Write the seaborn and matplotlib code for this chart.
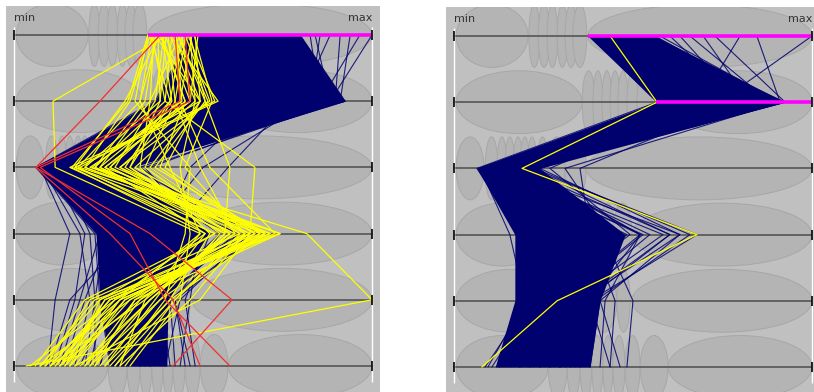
import matplotlib
matplotlib.use("Agg")
import matplotlib.pyplot as plt
from matplotlib.patches import Ellipse
import pandas as pd
import seaborn as sns

# Six dimensions, each drawn as a horizontal axis running from min (left) to max (right).
# All values are expressed as percent of each dimension's range.
DIMENSIONS = [0, 1, 2, 3, 4, 5]

# Distribution glyphs behind each axis: (low, high) extent of every ellipse.
ROW_ELLIPSES = [
    [(0.6, 20.7), (20.9, 24.0), (23.5, 26.8), (26.0, 29.0), (28.8, 31.8), (31.0, 34.4), (33.2, 37.1), (37.4, 100)],
    [(0.6, 35.8), (35.8, 39.4), (38.8, 41.6), (41.3, 44.1), (43.6, 46.4), (45.8, 48.6), (48.3, 51.4), (51.1, 55.3), (58.4, 100)],
    [(0.6, 8.4), (8.7, 12.3), (12.0, 14.8), (14.2, 17.0), (16.5, 19.3), (18.4, 21.2), (20.4, 23.2), (23.2, 26.3), (26.3, 31.0), (31.0, 36.9), (36.9, 100)],
    [(0.6, 26.3), (26.3, 33.8), (33.8, 40.8), (40.8, 45.0), (44.4, 49.7), (49.7, 100)],
    [(0.6, 31.0), (31.0, 38.0), (38.0, 45.5), (45.5, 49.2), (49.7, 100)],
    [(0.6, 26.3), (26.3, 31.6), (31.6, 35.2), (35.2, 38.5), (38.5, 41.6), (41.6, 44.4), (44.4, 47.8), (47.8, 52.0), (52.0, 59.8), (59.8, 100)],
]

# ---- Left view: full data set, one brushed group in yellow, a few records in red ----
LEFT_CORE_LO = [49.2, 39.4, 6.1, 22.9, 24.0, 26.8]
LEFT_CORE_HI = [79.9, 92.5, 33.0, 54.7, 43.0, 42.7]

LEFT_BLUE = [
    [100, 88.3, 29.6, 57.5, 38.0, 35.2],
    [93.9, 91.1, 26.8, 63.1, 40.8, 38.0],
    [88.3, 79.9, 24.0, 52.0, 35.2, 29.6],
    [79.9, 92.5, 32.4, 68.2, 43.6, 40.8],
    [68.7, 92.5, 21.2, 65.9, 29.6, 24.0],
    [85.5, 82.7, 52.8, 38.0, 32.4, 26.8],
    [74.3, 77.1, 59.8, 43.6, 40.8, 38.0],
    [63.1, 68.7, 49.2, 40.8, 38.0, 35.2],
    [52.0, 46.4, 7.3, 15.6, 11.5, 9.5],
    [57.5, 52.0, 10.1, 24.0, 18.4, 12.8],
    [54.7, 49.2, 8.7, 29.6, 24.0, 15.6],
    [60.3, 54.7, 12.8, 21.2, 22.6, 19.8],
    [65.9, 71.5, 18.4, 52.0, 49.2, 46.4],
    [68.7, 74.3, 24.0, 54.7, 47.8, 50.6],
    [63.1, 65.9, 29.6, 57.5, 45.0, 49.2],
    [56.1, 60.3, 15.6, 46.4, 40.8, 43.6],
    [50.6, 40.8, 6.1, 24.0, 26.8, 32.4],
    [53.4, 43.6, 7.3, 29.6, 29.6, 35.2],
    [58.9, 52.0, 10.1, 35.2, 32.4, 38.0],
    [64.5, 60.3, 12.8, 40.8, 35.2, 40.8],
    [70.1, 68.7, 15.6, 46.4, 38.0, 42.2],
    [75.7, 77.1, 18.4, 52.0, 40.8, 39.4],
    [82.7, 85.5, 21.2, 60.3, 42.2, 33.8],
    [49.2, 39.4, 6.1, 22.6, 24.0, 26.8],
    [60.3, 65.9, 8.7, 38.0, 25.4, 21.2],
    [71.5, 79.9, 11.5, 43.6, 28.2, 24.0],
    [54.7, 56.1, 14.2, 32.4, 31.0, 29.6],
    [79.9, 89.7, 17.0, 63.1, 33.8, 36.6],
    [67.3, 72.9, 19.8, 49.2, 36.6, 31.0],
    [61.7, 63.1, 22.6, 26.8, 39.4, 28.2],
    [96.6, 85.5, 35.2, 61.7, 42.2, 38.0],
    [91.1, 89.7, 29.6, 54.7, 39.4, 36.6],
    [84.1, 88.3, 38.0, 64.5, 43.6, 45.0],
    [77.1, 91.1, 36.6, 52.0, 38.0, 35.2],
    [57.5, 49.2, 10.1, 19.8, 17.0, 11.5],
    [63.1, 52.0, 11.5, 26.8, 19.8, 14.2],
    [58.9, 53.4, 7.8, 18.4, 21.2, 17.0],
    [65.9, 56.1, 9.5, 32.4, 15.6, 10.1],
    [61.7, 58.9, 10.6, 35.2, 26.8, 18.4],
    [56.1, 47.8, 6.7, 25.4, 22.6, 22.6],
    [72.9, 82.7, 24.0, 68.2, 45.0, 47.8],
    [78.2, 86.6, 19.8, 65.9, 46.4, 42.2],
]

LEFT_YELLOW = [
    [43.0, 10.9, 11.5, 52.0, 29.6, 12.8],
    [40.8, 31.0, 17.0, 60.3, 38.0, 18.4],
    [43.6, 57.0, 17.0, 68.7, 32.4, 7.3],
    [39.4, 52.0, 18.4, 74.3, 26.8, 10.1],
    [42.2, 49.2, 21.2, 81.8, 100, 3.4],
    [45.0, 46.4, 24.0, 65.9, 24.0, 15.6],
    [38.0, 43.6, 26.8, 63.1, 21.2, 8.7],
    [47.8, 54.7, 29.6, 60.3, 35.2, 21.2],
    [40.2, 40.8, 32.4, 57.5, 40.8, 24.0],
    [46.4, 38.0, 35.2, 54.7, 43.6, 26.8],
    [50.6, 52.0, 38.0, 64.5, 31.0, 14.2],
    [41.3, 47.8, 40.8, 67.3, 28.2, 11.5],
    [38.5, 35.2, 43.6, 52.0, 36.6, 29.6],
    [49.2, 50.6, 46.4, 49.2, 46.4, 32.4],
    [43.0, 45.0, 52.0, 61.7, 33.8, 19.8],
    [44.1, 42.2, 67.3, 65.9, 52.0, 17.0],
    [45.8, 53.4, 60.3, 58.9, 38.0, 22.6],
    [38.0, 32.4, 19.8, 70.1, 25.4, 12.8],
    [39.7, 36.6, 22.6, 74.3, 22.6, 7.3],
    [48.6, 56.1, 15.6, 56.1, 19.8, 5.9],
    [51.4, 49.2, 25.4, 53.4, 39.4, 25.4],
    [41.9, 39.4, 28.2, 71.5, 29.6, 15.6],
    [46.9, 43.6, 31.0, 64.5, 45.0, 31.0],
    [37.4, 33.8, 49.2, 47.8, 42.2, 28.2],
    [49.7, 46.4, 54.7, 72.9, 26.8, 10.1],
    [38.5, 42.2, 22.6, 61.7, 32.4, 15.6],
    [40.8, 47.8, 26.8, 65.9, 35.2, 12.8],
    [43.6, 50.6, 29.6, 70.1, 29.6, 8.7],
    [45.8, 54.2, 33.8, 67.3, 40.8, 21.2],
    [48.0, 45.0, 36.6, 63.1, 45.0, 28.2],
    [39.1, 38.0, 24.0, 58.9, 38.0, 19.8],
    [42.5, 40.8, 19.8, 71.5, 26.8, 11.5],
    [44.7, 52.0, 42.2, 68.7, 31.0, 17.0],
    [50.3, 55.3, 47.8, 64.5, 49.2, 29.6],
    [40.2, 35.2, 17.9, 56.1, 24.0, 7.3],
    [46.9, 49.2, 25.4, 74.3, 33.8, 22.6],
    [41.3, 44.1, 32.4, 60.3, 36.6, 10.1],
    [37.4, 31.8, 16.2, 53.4, 28.2, 4.5],
    [49.2, 53.4, 39.4, 70.1, 43.6, 25.4],
    [45.3, 46.9, 21.8, 65.9, 25.4, 14.2],
]

LEFT_RED = [
    [40.8, 24.0, 6.1, 26.8, 44.4, 52.0],
    [45.0, 46.4, 6.1, 38.0, 60.9, 44.4],
    [47.8, 49.2, 7.3, 32.4, 42.2, 60.3],
]

# Range selections (dimension, low, high)
LEFT_SELECTION = [(0, 37.4, 100)]

# ---- Right view: records inside the selections on the first two dimensions ----
RIGHT_CORE_LO = [37.4, 56.7, 6.4, 17.0, 17.0, 11.5]
RIGHT_CORE_HI = [56.1, 92.5, 24.0, 47.8, 40.8, 38.0]

RIGHT_BLUE = [
    [100, 74.0, 12.8, 52.0, 29.6, 24.0],
    [84.6, 91.1, 18.4, 60.3, 35.2, 32.4],
    [72.9, 92.5, 21.2, 67.9, 38.0, 29.6],
    [65.9, 88.3, 15.6, 54.7, 32.4, 35.2],
    [69.6, 82.7, 24.0, 63.1, 40.8, 38.0],
    [60.3, 79.9, 10.1, 46.4, 26.8, 21.2],
    [79.9, 68.7, 26.8, 49.2, 24.0, 18.4],
    [57.5, 91.1, 31.0, 43.6, 35.2, 29.6],
    [63.1, 79.9, 35.2, 38.0, 32.4, 26.8],
    [40.8, 63.1, 8.7, 44.4, 24.0, 18.4],
    [43.6, 65.9, 10.1, 48.3, 26.8, 21.2],
    [46.4, 68.7, 11.5, 52.8, 29.6, 24.0],
    [49.2, 71.5, 12.8, 58.4, 32.4, 26.8],
    [52.0, 77.1, 14.2, 63.1, 35.2, 29.6],
    [42.2, 60.3, 7.3, 15.6, 19.8, 12.8],
    [45.0, 61.7, 15.6, 41.6, 50.0, 48.3],
    [47.8, 64.5, 17.0, 38.0, 45.0, 43.6],
    [39.4, 58.9, 7.3, 21.2, 21.2, 8.7],
    [38.0, 56.7, 6.4, 18.4, 18.4, 12.8],
    [39.4, 60.3, 7.3, 24.0, 24.0, 18.4],
    [42.2, 65.9, 8.7, 29.6, 26.8, 24.0],
    [45.0, 71.5, 11.5, 35.2, 29.6, 26.8],
    [49.2, 79.9, 14.2, 40.8, 32.4, 29.6],
    [53.4, 85.5, 17.0, 46.4, 35.2, 32.4],
    [56.1, 89.7, 19.8, 52.0, 38.0, 35.2],
    [52.0, 92.5, 22.6, 65.9, 39.4, 38.0],
    [40.8, 74.3, 10.1, 32.4, 22.6, 15.6],
    [46.4, 82.7, 12.8, 26.8, 31.0, 33.8],
    [39.7, 58.1, 7.0, 22.6, 19.8, 9.5],
    [43.0, 63.1, 9.5, 26.8, 22.6, 10.6],
    [45.8, 68.7, 12.3, 36.6, 38.0, 43.6],
    [50.6, 77.1, 15.6, 42.2, 40.8, 46.4],
    [54.7, 84.1, 18.4, 52.0, 42.2, 40.8],
    [47.8, 81.3, 21.2, 60.3, 36.6, 31.0],
]

RIGHT_YELLOW = [
    [43.6, 56.7, 19.0, 67.9, 28.8, 7.8],
]

RIGHT_RED = []

RIGHT_SELECTION = [(0, 37.4, 100), (1, 56.4, 100)]

# ---- styling ----
PANEL_BG = "#c0c0c0"
GLYPH_FACE = "#b4b4b4"
GLYPH_EDGE = "#a7a7a7"
AXIS_COLOR = "#5c5c5c"
NAVY = "#00006e"
YELLOW = "#ffff00"
RED = "#f03030"
MAGENTA = "#ff00ff"


def to_long(records):
    rows = []
    for rid, rec in enumerate(records):
        for dim, val in zip(DIMENSIONS, rec):
            rows.append({"record": rid, "dimension": dim, "value": val})
    return pd.DataFrame(rows, columns=["record", "dimension", "value"])


def draw_records(ax, records, color, lw, alpha, z):
    if not records:
        return
    sns.lineplot(data=to_long(records), x="value", y="dimension", units="record",
                 estimator=None, sort=False, color=color, lw=lw, alpha=alpha,
                 legend=False, ax=ax, zorder=z)


def draw_panel(ax, core_lo, core_hi, blue, yellow, red, selection, ylim_top, ylim_bottom):
    ax.set_facecolor(PANEL_BG)

    for dim, spans in zip(DIMENSIONS, ROW_ELLIPSES):
        for lo, hi in spans:
            ax.add_patch(Ellipse(((lo + hi) / 2, dim), hi - lo, 0.95,
                                 facecolor=GLYPH_FACE, edgecolor=GLYPH_EDGE,
                                 lw=0.7, zorder=0.5))

    for dim in DIMENSIONS:
        ax.plot([0, 100], [dim, dim], color=AXIS_COLOR, lw=1.3, zorder=1)
    ax.vlines([0, 100], -0.12, 5.24, color="white", lw=1.0, zorder=1.2)

    # dense bundle of overlapping records
    ax.fill_betweenx(DIMENSIONS, core_lo, core_hi, color=NAVY, lw=0, zorder=2)
    draw_records(ax, blue, NAVY, 0.8, 0.85, 2.1)
    draw_records(ax, yellow, YELLOW, 0.9, 1.0, 3)
    draw_records(ax, red, RED, 0.9, 1.0, 3.5)

    for dim, lo, hi in selection:
        ax.plot([lo, hi], [dim, dim], color=MAGENTA, lw=2.6,
                solid_capstyle="butt", zorder=4)

    for dim in DIMENSIONS:
        ax.vlines([0, 100], dim - 0.075, dim + 0.075, color="black", lw=1.2, zorder=5)

    ax.text(0, -0.26, "min", ha="left", va="center", fontsize=8, color="#333333", zorder=6)
    ax.text(100, -0.26, "max", ha="right", va="center", fontsize=8, color="#333333", zorder=6)

    ax.set_ylim(ylim_bottom, ylim_top)
    ax.set_xlabel("")
    ax.set_ylabel("")
    ax.set_xticks([])
    ax.set_yticks([])
    for s in ax.spines.values():
        s.set_visible(False)


sns.set_theme(style="white")
plt.rcParams["font.family"] = ["DejaVu Sans"]

W, H = 814, 392
fig = plt.figure(figsize=(W / 100, H / 100), dpi=100, facecolor="white")

ax_left = fig.add_axes([6 / W, 0, 374 / W, (H - 6) / H])
ax_right = fig.add_axes([446 / W, 0, 368 / W, (H - 7) / H])

draw_panel(ax_left, LEFT_CORE_LO, LEFT_CORE_HI, LEFT_BLUE, LEFT_YELLOW, LEFT_RED,
           LEFT_SELECTION, -0.438, 5.393)
ax_left.set_xlim(-2.23, 102.23)

draw_panel(ax_right, RIGHT_CORE_LO, RIGHT_CORE_HI, RIGHT_BLUE, RIGHT_YELLOW, RIGHT_RED,
           RIGHT_SELECTION, -0.438, 5.378)
ax_right.set_xlim(-2.23, 100.56)

fig.savefig("out.png", dpi=100, facecolor="white")
